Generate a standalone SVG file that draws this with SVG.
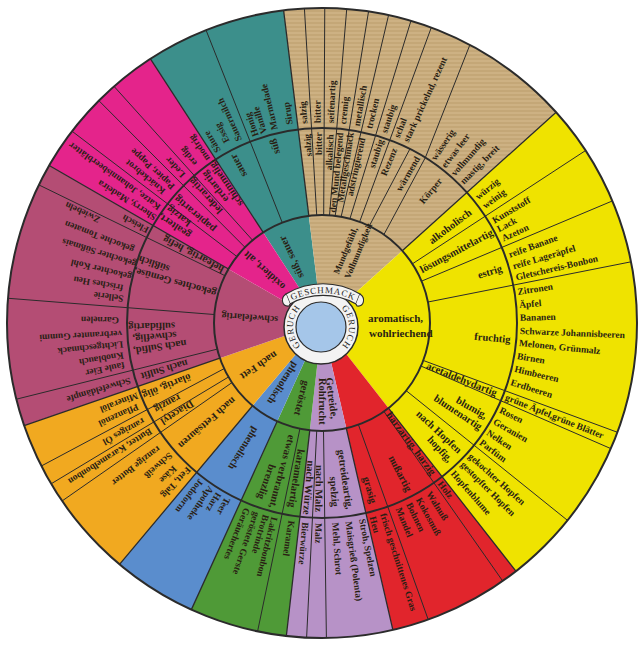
<svg xmlns="http://www.w3.org/2000/svg" width="644" height="648" viewBox="0 0 644 648">
<defs>
<pattern id="tanp" width="8" height="4" patternUnits="userSpaceOnUse">
<rect width="8" height="4" fill="#cdb183"/>
<rect y="2.4" width="8" height="1.2" fill="#bfa06f"/>
</pattern>
<style>
text{font-family:"Liberation Serif","Times New Roman",serif;font-weight:bold;fill:#2a1f14;dominant-baseline:central}
.o{font-size:9.5px}.m{font-size:10.5px}.s{font-size:9.5px}.i{font-size:10.5px}.t{font-size:9px}
.c{font-size:9px;font-weight:normal;dominant-baseline:auto;letter-spacing:0.8px;fill:#222}
.ln{stroke:#2b2b2b;stroke-width:1;fill:none}
.bd{stroke:#2b2b2b;stroke-width:1.3;fill:none}
.ring{fill:none;stroke:#2b2b2b;stroke-width:2}
</style>
</defs>
<rect width="644" height="648" fill="#fff"/>

<g id="teal">
<path fill="#3c8f8b" d="M322 323L150.44 58.82A315 315 0 0 1 283.61 10.35Z"/>
</g>
<g id="tan">
<path fill="url(#tanp)" d="M322 323L283.61 10.35A315 315 0 0 1 556.09 112.22Z"/>
</g>
<g id="yellow">
<path fill="#efe300" d="M322 323L556.09 112.22A315 315 0 0 1 515.93 571.22Z"/>
</g>
<g id="red">
<path fill="#e1252c" d="M322 323L515.93 571.22A315 315 0 0 1 392.86 629.93Z"/>
</g>
<g id="purple">
<path fill="#b792c7" d="M322 323L392.86 629.93A315 315 0 0 1 286.34 635.97Z"/>
</g>
<g id="green">
<path fill="#4f9a37" d="M322 323L286.34 635.97A315 315 0 0 1 191.37 609.64Z"/>
</g>
<g id="blue">
<path fill="#5a8dcd" d="M322 323L191.37 609.64A315 315 0 0 1 119.52 564.30Z"/>
</g>
<g id="orange">
<path fill="#f1a920" d="M322 323L119.52 564.30A315 315 0 0 1 24.16 425.55Z"/>
</g>
<g id="maroon">
<path fill="#b44d74" d="M322 323L24.16 425.55A315 315 0 0 1 49.20 165.5Z"/>
</g>
<g id="magenta">
<path fill="#e4248b" d="M322 323L49.20 165.5A315 315 0 0 1 150.44 58.82Z"/>
</g>

<g id="connectors">
<path class="bd" d="M308.84 215.8L283.61 10.35M402.26 250.73L556.09 112.22M388.49 408.1L515.93 571.22M346.29 428.23L392.86 629.93M309.77 430.31L286.34 635.97M277.21 421.28L191.37 609.64M252.58 405.73L119.52 564.30M219.88 358.16L24.16 425.55M228.47 269.0L49.20 165.5M263.18 232.42L150.44 58.82"/>
<path class="ln" d="M282.24 222.58L206.04 30.12
M316.72 215.13L304.42 8.49M323.70 215.01L324.75 8.01M329.53 215.26L346.72 8.97M335.16 215.80L368.56 11.46M341.12 216.71L388.57 15.11M349.95 218.68L410.94 20.82M359.65 221.77L431.29 27.56M369.34 225.93L409.92 148.94M383.95 234.53L425.33 157.63L469.88 44.87
M412.37 263.86L585.58 150.52M421.56 281.15L612.39 200.93M427.94 302.02L631.0 261.82M423.29 360.47L617.44 432.29M421.04 366.07L610.87 448.61M406.18 390.67L567.52 520.38
M383.95 411.47L502.68 581.03M358.41 424.68L428.19 619.56
M323.51 430.99L326.40 637.97M316.72 430.87L306.61 637.63
M299.91 428.72L257.58 631.34
M224.12 368.64L41.33 466.01M228.47 377.0L51.13 483.82M231.94 382.61L62.09 500.97
M217.21 349.13L16.36 399.20M214.33 314.53L7.97 298.28M224.93 275.66L38.88 184.91
M252.58 240.27L114.06 86.39M244.97 247.30L98.87 100.65M236.89 256.51L72.09 131.24"/>
<circle class="ring" cx="322" cy="323" r="108"/>
<circle class="ring" cx="322" cy="323" r="195"/>
<circle class="ring" cx="322" cy="323" r="315"/>
</g>

<g id="teal-labels">
<text class="i" transform="rotate(245 322 323)" x="372" y="323">süß, sauer</text>
<text class="m" transform="rotate(242 322 323)" x="488" y="323">sauer</text>
<text class="m" transform="rotate(255 322 323)" x="497" y="323">süß</text>
<text class="o" transform="rotate(238.8 322 323)" x="522" y="323">Säure</text>
<text class="o" transform="rotate(242.3 322 323)" x="526" y="323">Essig</text>
<text class="o" transform="rotate(245.6 322 323)" x="522" y="323">Sauermilch</text>
<text class="o" transform="rotate(250.5 322 323)" x="520" y="323">Honig</text>
<text class="o" transform="rotate(253 322 323)" x="520" y="323">Vanille</text>
<text class="o" transform="rotate(256.3 322 323)" x="521" y="323">Marmelade</text>
<text class="o" transform="rotate(260.8 322 323)" x="523" y="323">Sirup</text>
</g>

<g id="magenta-labels">
<text class="i" transform="rotate(222.3 322 323)" x="374" y="323">oxidiert, alt</text>
<text class="m" transform="rotate(231.8 322 323)" x="477" y="323">erdartig</text>
<text class="m" transform="rotate(235.3 322 323)" x="465" y="323">schimmelig,</text>
<text class="m" transform="rotate(227.5 322 323)" x="472" y="323">lederartig</text>
<text class="m" transform="rotate(220.5 322 323)" x="464" y="323">papierartig</text>
<text class="m" transform="rotate(213.3 322 323)" x="480" y="323">gealtert,</text>
<text class="m" transform="rotate(216.7 322 323)" x="487" y="323">katzig</text>
<text class="o" transform="rotate(235 322 323)" x="521" y="323">modrig</text>
<text class="o" transform="rotate(231.3 322 323)" x="525" y="323">erdig</text>
<text class="o" transform="rotate(226.7 322 323)" x="524" y="323">Leder</text>
<text class="o" transform="rotate(222.3 322 323)" x="523" y="323">Papier, Pappe</text>
<text class="o" transform="rotate(219.6 322 323)" x="527" y="323">Knäckebrot</text>
<text class="o" transform="rotate(215.3 322 323)" x="521" y="323">Katze, Johannisbeerblätter</text>
<text class="o" transform="rotate(212.2 322 323)" x="519" y="323">Sherry, Madeira</text>
</g>

<g id="maroon-labels">
<text class="i" transform="rotate(184 322 323)" x="366" y="323" style="font-size:10px">schwefelartig</text>
<text class="m" transform="rotate(208 322 323)" x="434" y="323">hefeartig, hefig</text>
<text class="m" transform="rotate(195.5 322 323)" x="432" y="323">gekochtes Gemüse,</text>
<text class="m" transform="rotate(199.3 322 323)" x="484" y="323">süßlich</text>
<text class="m" transform="rotate(171.5 322 323)" x="459" y="323">nach Sulfid,</text>
<text class="m" transform="rotate(175.2 322 323)" x="468" y="323">schweflig,</text>
<text class="m" transform="rotate(178.8 322 323)" x="469" y="323">sulfidartig</text>
<text class="m" transform="rotate(163.5 322 323)" x="462" y="323">nach Sulfit</text>
<text class="o" transform="rotate(163.3 322 323)" x="522" y="323">Schwefeldämpfe</text>
<text class="o" transform="rotate(168 322 323)" x="524" y="323">faule Eier</text>
<text class="o" transform="rotate(170.8 322 323)" x="523" y="323">Knoblauch</text>
<text class="o" transform="rotate(173.9 322 323)" x="522" y="323">Lichtgeschmack</text>
<text class="o" transform="rotate(177 322 323)" x="522" y="323">verbrannter Gummi</text>
<text class="o" transform="rotate(180.8 322 323)" x="525" y="323">Garnelen</text>
<text class="o" transform="rotate(187 322 323)" x="522" y="323">Sellerie</text>
<text class="o" transform="rotate(190 322 323)" x="524" y="323">frisches Heu</text>
<text class="o" transform="rotate(193.6 322 323)" x="518" y="323">gekochter Kohl</text>
<text class="o" transform="rotate(197.5 322 323)" x="517" y="323">gekochter Süßmais</text>
<text class="o" transform="rotate(201.2 322 323)" x="524" y="323">gekochte Tomaten</text>
<text class="o" transform="rotate(204.8 322 323)" x="567" y="323">Zwiebeln</text>
<text class="o" transform="rotate(208 322 323)" x="519" y="323">Fleisch</text>
</g>

<g id="orange-labels">
<text class="i" transform="rotate(146 322 323)" x="377" y="323">nach Fett</text>
<text class="m" transform="rotate(157.8 322 323)" x="464" y="323">ölartig, ölig</text>
<text class="m" transform="rotate(152.4 322 323)" x="482" y="323">ranzig</text>
<text class="m" transform="rotate(148.2 322 323)" x="474" y="323">Diacetyl</text>
<text class="m" transform="rotate(139 322 323)" x="438" y="323">nach Fettsäuren</text>
<text class="o" transform="rotate(158.6 322 323)" x="520" y="323">Mineralöl</text>
<text class="o" transform="rotate(155.6 322 323)" x="524" y="323">Pflanzenöl</text>
<text class="o" transform="rotate(151.3 322 323)" x="525" y="323">ranziges Öl</text>
<text class="o" transform="rotate(147.8 322 323)" x="524" y="323">Butter, Karamelbonbon</text>
<text class="o" transform="rotate(142.5 322 323)" x="527" y="323">ranzige Butter</text>
<text class="o" transform="rotate(139 322 323)" x="522" y="323">Schweiß</text>
<text class="o" transform="rotate(135.5 322 323)" x="528" y="323">Käse</text>
<text class="o" transform="rotate(132.5 322 323)" x="519" y="323">Fett, Talg</text>
</g>

<g id="blue-labels">
<text class="i" transform="rotate(123 322 323)" x="370" y="323">phenolisch</text>
<text class="m" transform="rotate(122 322 323)" x="446" y="323">phenolisch</text>
<text class="o" transform="rotate(118.3 322 323)" x="521" y="323">Teer</text>
<text class="o" transform="rotate(121.2 322 323)" x="521" y="323">Harz</text>
<text class="o" transform="rotate(124 322 323)" x="520" y="323">Apotheke</text>
<text class="o" transform="rotate(127.5 322 323)" x="520" y="323">Jodoform</text>
</g>

<g id="green-labels">
<text class="i" transform="rotate(105 322 323)" x="382" y="323">geröstet</text>
<text class="m" transform="rotate(99.3 322 323)" x="450" y="323">karamelartig</text>
<text class="m" transform="rotate(105 322 323)" x="438" y="323">etwas verbrannt,</text>
<text class="m" transform="rotate(109.2 322 323)" x="472" y="323">brenzlig</text>
<text class="o" transform="rotate(98.8 322 323)" x="522" y="323">Karamel</text>
<text class="o" transform="rotate(103.8 322 323)" x="522" y="323">Lakritzbonbon</text>
<text class="o" transform="rotate(106.3 322 323)" x="522" y="323">Brotrinde</text>
<text class="o" transform="rotate(109 322 323)" x="522" y="323">geröstete Gerste</text>
<text class="o" transform="rotate(112 322 323)" x="522" y="323">Geräuchertes</text>
</g>

<g id="purple-labels">
<text class="i" transform="rotate(82.5 322 323)" x="377" y="323">Getreide,</text>
<text class="i" transform="rotate(90 322 323)" x="377" y="323">Rohfrucht</text>
<text class="m" transform="rotate(81.5 322 323)" x="450" y="323">getreideartig,</text>
<text class="m" transform="rotate(85.8 322 323)" x="476" y="323">spelzig</text>
<text class="m" transform="rotate(91 322 323)" x="464" y="323">nach Malz</text>
<text class="m" transform="rotate(94.6 322 323)" x="460" y="323">nach Würze</text>
<text class="o" transform="rotate(78.5 322 323)" x="522" y="323">Stroh, Spelzen</text>
<text class="o" transform="rotate(82.4 322 323)" x="522" y="323">Maisgrieß (Polenta)</text>
<text class="o" transform="rotate(86.2 322 323)" x="522" y="323">Mehl, Schrot</text>
<text class="o" transform="rotate(91 322 323)" x="522" y="323">Malz</text>
<text class="o" transform="rotate(94.8 322 323)" x="522" y="323">Bierwürze</text>
</g>

<g id="red-labels">
<text class="m" transform="rotate(53.5 322 323)" x="434" y="323">harzartig, harzig</text>
<text class="m" transform="rotate(62.5 322 323)" x="472" y="323">nußartig</text>
<text class="m" transform="rotate(74 322 323)" x="482" y="323">grasig</text>
<text class="o" transform="rotate(53.5 322 323)" x="520" y="323">Holz</text>
<text class="o" transform="rotate(57.8 322 323)" x="522" y="323">Walnuß</text>
<text class="o" transform="rotate(61.2 322 323)" x="522" y="323">Kokosnuß</text>
<text class="o" transform="rotate(64.3 322 323)" x="522" y="323">Bohnen</text>
<text class="o" transform="rotate(67.6 322 323)" x="522" y="323">Mandel</text>
<text class="o" transform="rotate(72.3 322 323)" x="522" y="323">frisch geschnittenes Gras</text>
<text class="o" transform="rotate(75.4 322 323)" x="522" y="323">Heu</text>
</g>

<g id="yellow-labels">
<text class="i" x="368" y="318" style="font-size:11px">aromatisch,</text>
<text class="i" x="369" y="333" style="font-size:11px">wohlriechend</text>
<text class="m" transform="rotate(-37 322 323)" x="457" y="323">alkoholisch</text>
<text class="m" transform="rotate(-28.2 322 323)" x="434" y="323">lösungsmittelartig</text>
<text class="m" transform="rotate(-17 322 323)" x="485" y="323">estrig</text>
<text class="m" transform="rotate(5 322 323)" x="475" y="323">fruchtig</text>
<text class="m" transform="rotate(21.9 322 323)" x="435" y="323">acetaldehydartig</text>
<text class="m" transform="rotate(29.5 322 323)" x="477" y="323">blumig,</text>
<text class="m" transform="rotate(33.3 322 323)" x="457" y="323">blumenartig</text>
<text class="m" transform="rotate(42.9 322 323)" x="453" y="323">nach Hopfen</text>
<text class="m" transform="rotate(46.9 322 323)" x="479" y="323">hopfig,</text>
<text class="o" transform="rotate(-39 322 323)" x="521" y="323">würzig</text>
<text class="o" transform="rotate(-35.8 322 323)" x="521" y="323">weinig</text>
<text class="o" transform="rotate(-30.8 322 323)" x="521" y="323">Kunststoff</text>
<text class="o" transform="rotate(-28 322 323)" x="521" y="323">Lack</text>
<text class="o" transform="rotate(-25 322 323)" x="521" y="323">Azeton</text>
<text class="o" transform="rotate(-20 322 323)" x="521" y="323">reife Banane</text>
<text class="o" transform="rotate(-16.5 322 323)" x="521" y="323">reife Lageräpfel</text>
<text class="o" transform="rotate(-13.2 322 323)" x="521" y="323">Gletschereis-Bonbon</text>
<text class="o" transform="rotate(-9 322 323)" x="520" y="323">Zitronen</text>
<text class="o" transform="rotate(-5.2 322 323)" x="520" y="323">Äpfel</text>
<text class="o" transform="rotate(-1.5 322 323)" x="520" y="323">Bananen</text>
<text class="o" transform="rotate(2.3 322 323)" x="520" y="323">Schwarze Johannisbeeren</text>
<text class="o" transform="rotate(5.8 322 323)" x="520" y="323">Melonen, Grünmalz</text>
<text class="o" transform="rotate(9.6 322 323)" x="520" y="323">Birnen</text>
<text class="o" transform="rotate(13.4 322 323)" x="520" y="323">Himbeeren</text>
<text class="o" transform="rotate(17.4 322 323)" x="520" y="323">Erdbeeren</text>
<text class="o" transform="rotate(21.9 322 323)" x="520" y="323">grüne Äpfel,grüne Blätter</text>
<text class="o" transform="rotate(26 322 323)" x="520" y="323">Rosen</text>
<text class="o" transform="rotate(29.7 322 323)" x="520" y="323">Geranien</text>
<text class="o" transform="rotate(33.4 322 323)" x="520" y="323">Nelken</text>
<text class="o" transform="rotate(36.8 322 323)" x="520" y="323">Parfüm</text>
<text class="o" transform="rotate(41.8 322 323)" x="520" y="323">gekochter Hopfen</text>
<text class="o" transform="rotate(45 322 323)" x="520" y="323">gestopfter Hopfen</text>
<text class="o" transform="rotate(48.8 322 323)" x="520" y="323">Hopfenblume</text>
</g>

<g id="tan-labels">
<text class="t" transform="rotate(-67.5 322 323)" x="373" y="317">Mundgefühl,</text>
<text class="t" transform="rotate(-67.5 322 323)" x="373" y="329">Vollmundigkeit</text>
<text class="s" transform="rotate(265.5 322 323)" x="489" y="323">salzig</text>
<text class="s" transform="rotate(269 322 323)" x="490" y="323">bitter</text>
<text class="s" transform="rotate(-87.4 322 323)" x="475" y="323">alkalisch</text>
<text class="s" transform="rotate(-84.5 322 323)" x="433" y="323">den Mund belegend</text>
<text class="s" transform="rotate(-81.4 322 323)" x="444" y="323">Metallgeschmack</text>
<text class="s" transform="rotate(-77.7 322 323)" x="452" y="323">adstringierend</text>
<text class="s" transform="rotate(-72.2 322 323)" x="485" y="323">staubig</text>
<text class="s" transform="rotate(-67.4 322 323)" x="482" y="323">Rezenz</text>
<text class="s" transform="rotate(-60 322 323)" x="475" y="323">wärmend</text>
<text class="s" transform="rotate(-50.5 322 323)" x="478" y="323">Körper</text>
<text class="o" transform="rotate(265 322 323)" x="522" y="323">salzig</text>
<text class="o" transform="rotate(268.8 322 323)" x="522" y="323">bitter</text>
<text class="o" transform="rotate(-87.5 322 323)" x="522" y="323">seifenartig</text>
<text class="o" transform="rotate(-84 322 323)" x="522" y="323">cremig</text>
<text class="o" transform="rotate(-80 322 323)" x="522" y="323">metallisch</text>
<text class="o" transform="rotate(-76.4 322 323)" x="522" y="323">trocken</text>
<text class="o" transform="rotate(-71.9 322 323)" x="522" y="323">staubig</text>
<text class="o" transform="rotate(-68.1 322 323)" x="522" y="323">schal</text>
<text class="o" transform="rotate(-65.2 322 323)" x="522" y="323">stark prickelnd, rezent</text>
<text class="o" transform="rotate(-55.8 322 323)" x="520" y="323">wässerig</text>
<text class="o" transform="rotate(-52.2 322 323)" x="520" y="323">etwas leer</text>
<text class="o" transform="rotate(-48.6 322 323)" x="520" y="323">vollmundig</text>
<text class="o" transform="rotate(-45.1 322 323)" x="520" y="323">mastig, breit</text>
</g>

<g id="center">
<circle cx="321" cy="327" r="37" fill="#f3f3f3" stroke="#2b2b2b" stroke-width="1.5"/>
<circle cx="321" cy="327" r="25" fill="#a5c6e9" stroke="#2b2b2b" stroke-width="1.2"/>
<path id="gl" d="M301.2 346.8A28 28 0 0 1 301.2 307.2" fill="none"/>
<path id="gr" d="M340.8 307.2A28 28 0 0 1 340.8 346.8" fill="none"/>
<text class="c"><textPath href="#gl" startOffset="50%" text-anchor="middle">GERUCH</textPath></text>
<text class="c"><textPath href="#gr" startOffset="50%" text-anchor="middle">GERUCH</textPath></text>
<path d="M286 294A72 72 0 0 1 360 294L356 304A68 68 0 0 0 290 304Z" fill="#f3f3f3" stroke="#2b2b2b" stroke-width="1.2"/>
<path d="M286 294C280 298 282 307 289 306L290 304" fill="#f3f3f3" stroke="#2b2b2b" stroke-width="1.1"/>
<path d="M360 294C366 298 364 307 357 306L356 304" fill="#f3f3f3" stroke="#2b2b2b" stroke-width="1.1"/>
<path id="gt" d="M289 302A70 70 0 0 1 357 302" fill="none"/>
<text class="c"><textPath href="#gt" startOffset="50%" text-anchor="middle">GESCHMACK</textPath></text>
</g>
</svg>
